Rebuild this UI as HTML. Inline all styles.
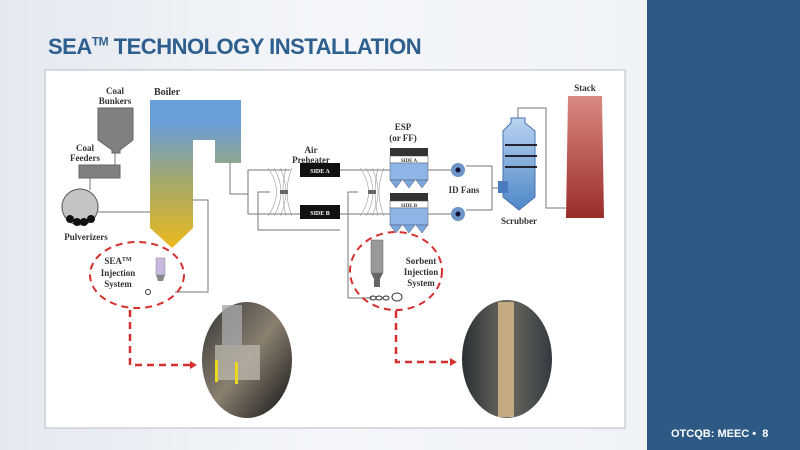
<!DOCTYPE html>
<html><head><style>
body{margin:0;width:800px;height:450px;overflow:hidden;font-family:"Liberation Sans",sans-serif}
.bg{position:absolute;left:0;top:0;width:800px;height:450px;background:linear-gradient(90deg,#e4e9f0,#f4f6f9 40%,#eef1f5)}
.panel{position:absolute;left:647px;top:0;width:153px;height:450px;background:#2d5a84}
.title{position:absolute;left:48px;top:34px;font-size:22px;font-weight:bold;color:#2e5f8e;letter-spacing:-0.5px}
.title sup{font-size:12px}
.foot{position:absolute;left:671px;top:428px;font-size:11px;font-weight:bold;color:#fff}
svg{position:absolute;left:0;top:0}
text{font-family:"Liberation Serif",serif;font-weight:bold;font-size:9px;fill:#333}
</style></head><body>
<div class="bg"></div>
<div class="panel"></div>
<div class="title">SEA<sup>TM</sup> TECHNOLOGY INSTALLATION</div>
<div class="foot">OTCQB: MEEC &#8226; &nbsp;8</div>
<svg width="800" height="450">
<defs>
<linearGradient id="bo" gradientUnits="userSpaceOnUse" x1="0" y1="110" x2="0" y2="245"><stop offset="0.1" stop-color="#6a9ed8"/><stop offset="0.5" stop-color="#a0a870"/><stop offset="1" stop-color="#e8b820"/></linearGradient>
<linearGradient id="st" x1="0" y1="0" x2="0" y2="1"><stop offset="0" stop-color="#d98a80"/><stop offset="1" stop-color="#9a2c2a"/></linearGradient>
<linearGradient id="sc" x1="0" y1="0" x2="0" y2="1"><stop offset="0" stop-color="#b8d4f0"/><stop offset="1" stop-color="#4f86c8"/></linearGradient>
<linearGradient id="ph1" x1="0" y1="0" x2="1" y2="1"><stop offset="0" stop-color="#333"/><stop offset="0.5" stop-color="#8a8070"/><stop offset="1" stop-color="#111"/></linearGradient>
<linearGradient id="ph2" x1="0" y1="0" x2="1" y2="0"><stop offset="0" stop-color="#2a3035"/><stop offset="0.5" stop-color="#6a6a60"/><stop offset="1" stop-color="#333a40"/></linearGradient>
</defs>
<rect x="45" y="70" width="580" height="358" fill="#fff" stroke="#b8bcc4"/>
<g stroke="#777" fill="none" stroke-width="1">
<line x1="115" y1="152" x2="115" y2="165"/>
<line x1="90" y1="178" x2="90" y2="190"/>
<line x1="98" y1="212" x2="150" y2="212"/>
<polyline points="230,163 230,194 248,194"/>
<polyline points="290,170 248,170 248,214 300,214"/>
<polyline points="340,230 258,230 258,192 270,192"/>
<polyline points="193,200 208,200 208,292 175,292"/>
<line x1="340" y1="170" x2="390" y2="170"/>
<line x1="340" y1="214" x2="390" y2="214"/>
<polyline points="428,170 458,170"/><polyline points="428,214 458,214"/>
<polyline points="466,166 492,166 492,210 466,210"/>
<line x1="492" y1="188" x2="503" y2="188"/>
<polyline points="518,118 518,108 546,108 546,208 566,208"/>
<polyline points="358,192 348,192 348,298 372,298"/>
</g>
<g stroke="#999" fill="none" stroke-width="0.6">
<path d="M268,168 Q285,192 268,216 M274,168 Q288,192 274,216 M280,168 Q292,192 280,216 M286,168 Q280,192 286,216 M292,168 Q282,192 292,216"/>
<path d="M360,168 Q377,192 360,216 M366,168 Q380,192 366,216 M372,168 Q384,192 372,216 M378,168 Q372,192 378,216 M384,168 Q374,192 384,216"/>
</g>
<rect x="280" y="190" width="8" height="4" fill="#666"/><rect x="368" y="190" width="8" height="4" fill="#666"/>
<text x="115" y="94" text-anchor="middle">Coal</text><text x="115" y="104" text-anchor="middle">Bunkers</text>
<path d="M98,108 H133 V140 L120,150 V153 H112 V150 L98,140Z" fill="#808080" stroke="#666"/>
<text x="85" y="151" text-anchor="middle">Coal</text><text x="85" y="161" text-anchor="middle">Feeders</text>
<rect x="79" y="165" width="41" height="13" fill="#808080" stroke="#666"/>
<circle cx="80" cy="207" r="18" fill="#c4c4c4" stroke="#555"/>
<g fill="#111"><circle cx="70" cy="219" r="4"/><circle cx="77" cy="222" r="4"/><circle cx="84" cy="222" r="4"/><circle cx="91" cy="219" r="4"/></g>
<text x="86" y="240" text-anchor="middle">Pulverizers</text>
<text x="167" y="95" text-anchor="middle" style="font-size:10px">Boiler</text>
<path d="M150,100 H241 V163 H215 V140 H193 V228 L172,248 L150,228Z" fill="url(#bo)"/>
<text x="311" y="153" text-anchor="middle">Air</text><text x="311" y="163" text-anchor="middle">Preheater</text>
<rect x="300" y="163" width="40" height="14" fill="#111"/><text x="320" y="173" text-anchor="middle" style="font-size:6px;fill:#fff">SIDE A</text>
<rect x="300" y="205" width="40" height="14" fill="#111"/><text x="320" y="215" text-anchor="middle" style="font-size:6px;fill:#fff">SIDE B</text>
<text x="403" y="130" text-anchor="middle">ESP</text><text x="403" y="141" text-anchor="middle">(or FF)</text>
<g id="esp">
<rect x="390" y="148" width="38" height="8" fill="#333"/>
<rect x="390" y="156" width="38" height="7" fill="#fff" stroke="#444" stroke-width="0.5"/>
<rect x="390" y="163" width="38" height="17" fill="#8db6e6" stroke="#557" stroke-width="0.5"/>
<path d="M390,180 h12 l-6,8z M403,180 h12 l-6,8z M416,180 h12 l-6,8z" fill="#7aa8de" stroke="#557" stroke-width="0.5"/>
</g>
<text x="409" y="162" text-anchor="middle" style="font-size:5px">SIDE A</text>
<use href="#esp" y="45"/>
<text x="409" y="207" text-anchor="middle" style="font-size:5px">SIDE B</text>
<circle cx="458" cy="170" r="7" fill="#6d94c6"/><circle cx="458" cy="170" r="2.5" fill="#113"/>
<circle cx="458" cy="214" r="7" fill="#6d94c6"/><circle cx="458" cy="214" r="2.5" fill="#113"/>
<text x="464" y="193" text-anchor="middle">ID Fans</text>
<path d="M511,118 h14 v5 l10,8 V197 L519,210 L503,197 V131 l8,-8z" fill="url(#sc)" stroke="#4670a8"/>
<g stroke="#223" stroke-width="2"><line x1="505" y1="145" x2="537" y2="145"/><line x1="505" y1="156" x2="537" y2="156"/><line x1="505" y1="167" x2="537" y2="167"/></g>
<rect x="498" y="181" width="10" height="12" fill="#4a7cc0"/>
<text x="519" y="224" text-anchor="middle">Scrubber</text>
<text x="585" y="91" text-anchor="middle">Stack</text>
<path d="M568,96 H602 L604,218 H566Z" fill="url(#st)"/>
<ellipse cx="137" cy="275" rx="47" ry="33" fill="none" stroke="#d6302e" stroke-width="2" stroke-dasharray="7,5"/>
<text x="118" y="264" text-anchor="middle">SEA<tspan dy="-3" style="font-size:6px">TM</tspan></text>
<text x="118" y="276" text-anchor="middle" dy="0">Injection</text><text x="118" y="287" text-anchor="middle">System</text>
<rect x="156" y="258" width="9" height="17" fill="#c8b8e0" stroke="#888" stroke-width="0.5"/><path d="M156,275 h9 l-2,6 h-5z" fill="#888"/>
<circle cx="148" cy="292" r="2.5" fill="none" stroke="#333"/>
<ellipse cx="396" cy="271" rx="46" ry="39" fill="none" stroke="#d6302e" stroke-width="2" stroke-dasharray="7,5"/>
<rect x="371" y="240" width="12" height="33" fill="#999" stroke="#666" stroke-width="0.5"/><path d="M371,273 h12 l-3,6 v8 h-6 v-8z" fill="#666"/>
<g fill="none" stroke="#333"><ellipse cx="373" cy="298" rx="3" ry="2"/><ellipse cx="379" cy="298" rx="3" ry="2"/><ellipse cx="386" cy="298" rx="3" ry="2"/><ellipse cx="397" cy="297" rx="5" ry="4"/></g>
<text x="421" y="264" text-anchor="middle">Sorbent</text><text x="421" y="275" text-anchor="middle">Injection</text><text x="421" y="286" text-anchor="middle">System</text>
<g stroke="#d6302e" stroke-width="2.5" fill="none" stroke-dasharray="7,5">
<polyline points="130,310 130,365 192,365"/>
<polyline points="396,311 396,362 452,362"/>
</g>
<path d="M190,361 l7,4 l-7,4z M450,358 l7,4 l-7,4z" fill="#d6302e"/>
<ellipse cx="247" cy="360" rx="45" ry="58" fill="url(#ph1)"/>
<rect x="215" y="345" width="45" height="35" fill="#b8b4a8" opacity="0.8"/>
<rect x="222" y="305" width="20" height="42" fill="#a8a8a8" opacity="0.8"/>
<rect x="215" y="360" width="3" height="22" fill="#e8d820"/><rect x="235" y="362" width="3" height="22" fill="#e8d820"/>
<ellipse cx="507" cy="359" rx="45" ry="59" fill="url(#ph2)"/>
<rect x="498" y="302" width="16" height="115" fill="#c4aa80"/>
</svg>
</body></html>
